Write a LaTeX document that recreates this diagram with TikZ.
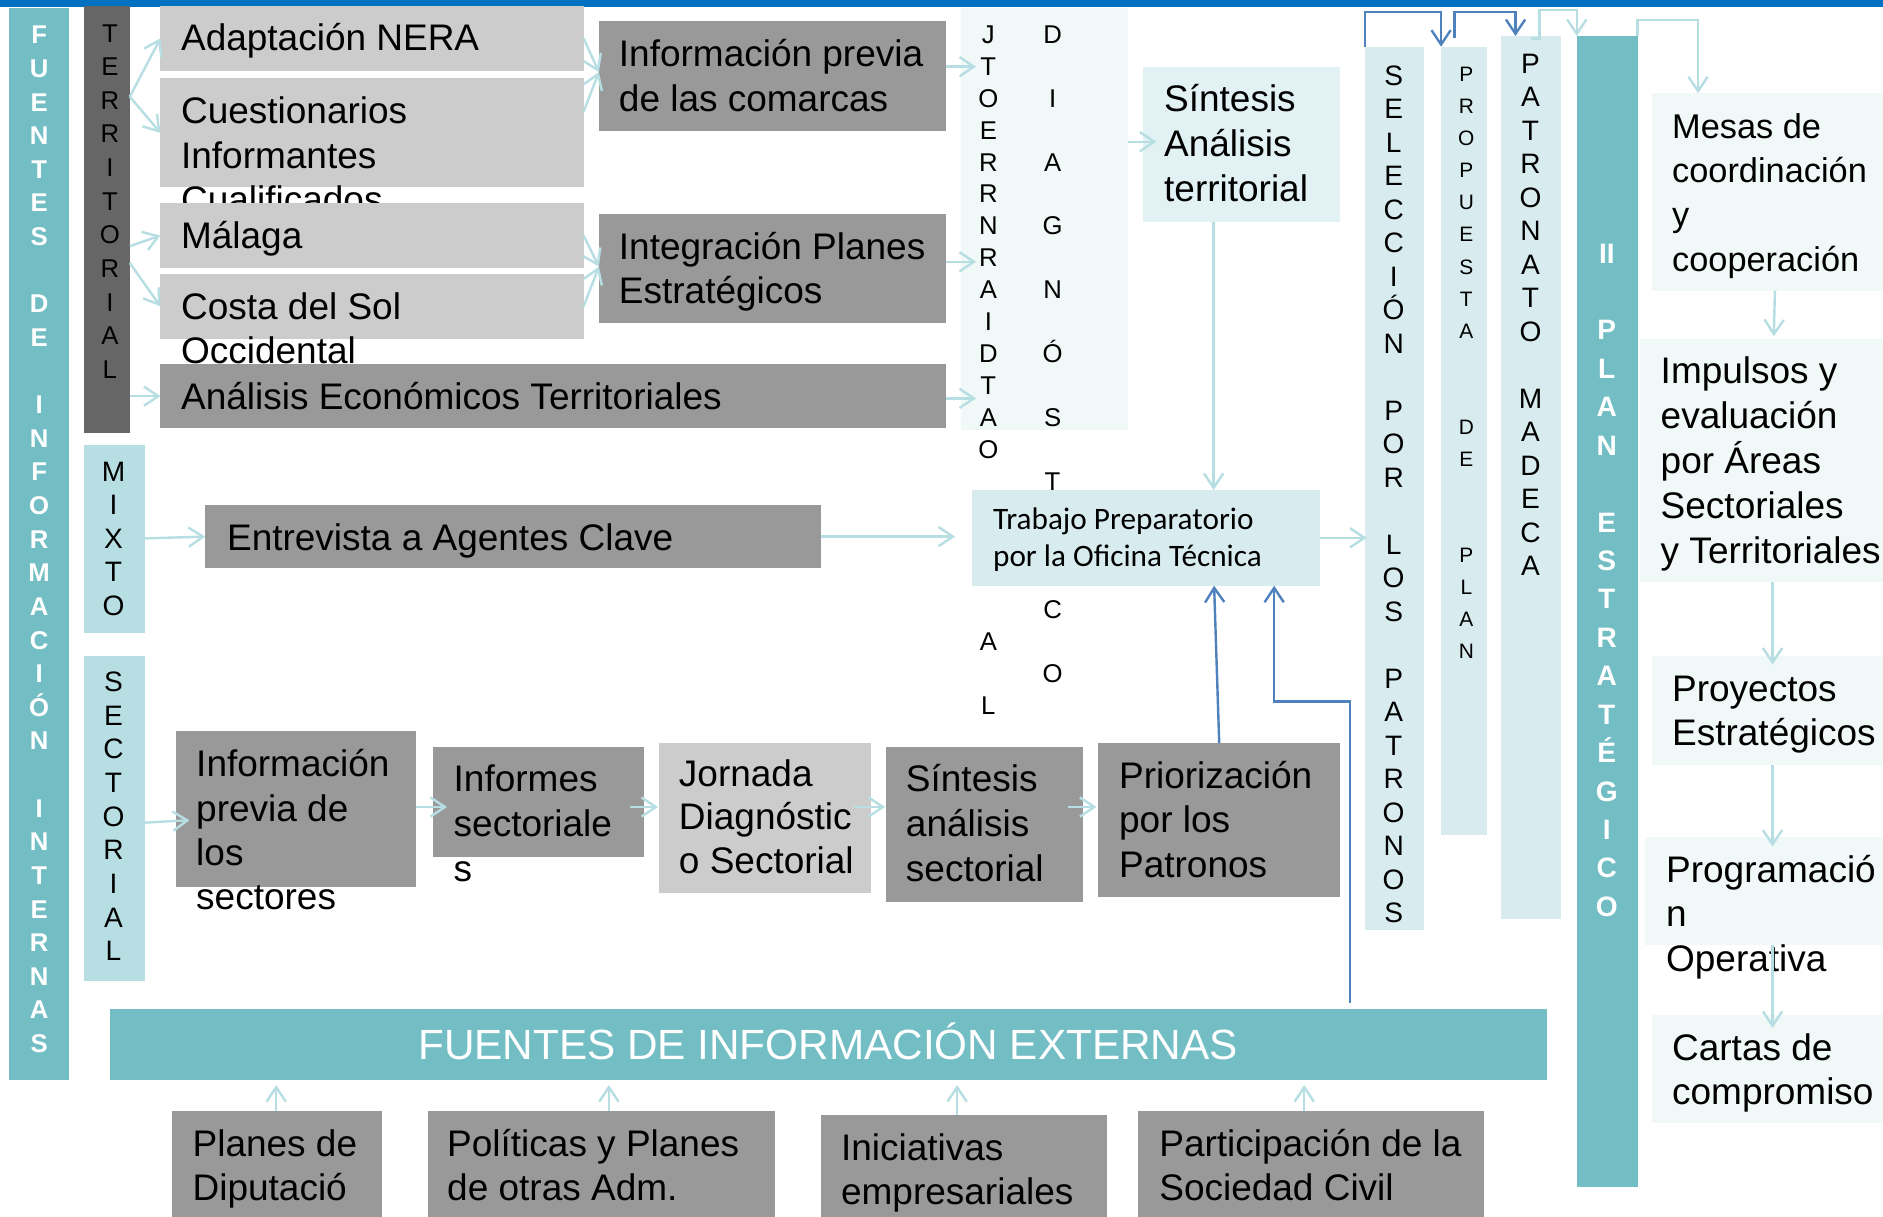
\documentclass[tikz,border=0pt]{standalone}
\usepackage{fontspec}
\setmainfont{Liberation Sans}
\newfontfamily\carlitofont{Carlito}
\usetikzlibrary{arrows.meta,fit}

\definecolor{topblue}{RGB}{0,112,192}
\definecolor{tealdark}{RGB}{115,190,196}
\definecolor{teallight}{RGB}{183,222,226}
\definecolor{tealpale}{RGB}{216,236,239}
\definecolor{tealsint}{RGB}{226,242,244}
\definecolor{tealfaint}{RGB}{240,248,248}
\definecolor{grayL}{RGB}{204,204,204}
\definecolor{grayM}{RGB}{153,153,153}
\definecolor{grayD}{RGB}{102,102,102}
\definecolor{arrowteal}{RGB}{183,222,226}
\definecolor{linkblue}{RGB}{79,129,189}

\tikzset{
  boxshape/.style={inner sep=0pt, outer sep=0pt, draw=none},
  tmain/.style={font=\fontsize{15.4}{18}\selectfont, text=black},
  tright/.style={font=\fontsize{14.3}{17}\selectfont, text=black},
  ttrab/.style={font=\carlitofont\fontsize{13}{15}\selectfont, text=black},
  colB/.style={font=\bfseries\fontsize{10.7}{12}\selectfont, text=white},
  colT/.style={font=\fontsize{10.7}{12}\selectfont, text=black},
  colM/.style={font=\fontsize{11.7}{13}\selectfont, text=black},
  colP/.style={font=\fontsize{8.7}{10}\selectfont, text=black},
  colPlan/.style={font=\bfseries\fontsize{11.7}{13}\selectfont, text=white},
  ar/.style={draw=arrowteal, line width=1pt, -{Straight Barb[length=6pt,width=8pt]}},
  bl/.style={draw=linkblue, line width=1pt, -{Straight Barb[length=6pt,width=8pt]}}
}

% box: name, x1, y1, x2, y2, fill
\newcommand\bx[6]{\node[boxshape, fill=#6, fit={(#2,#3) (#4,#5)}] (#1) {};}
% vertical letters: prefix, x, first baseline, pitch, style, list
\newcommand\vcol[6]{\foreach \vlet [count=\vidx from 0] in {#6} {\node[#5, anchor=base, inner sep=0pt] (#1\vidx) at (#2, #3+\vidx*#4) {\vlet};}}
% text lines: prefix, x, first baseline, pitch, style, list
\newcommand\tx[6]{\foreach \tline [count=\tidx from 0] in {#6} {\node[#5, anchor=base west, inner sep=0pt] (#1-\tidx) at (#2, #3+\tidx*#4) {\tline};}}

\begin{document}
\begin{tikzpicture}[x=0.5pt,y=-0.5pt]
\useasboundingbox (0,0) rectangle (1568,1013);
\fill[white] (0,0) rectangle (1568,1013);

\bx{topbar}{0}{0}{1568}{5.5}{topblue}

% left columns
\bx{fuentes}{7.6}{7}{57.6}{899}{tealdark}
\vcol{fl}{32.6}{36.5}{28}{colB}{F,U,E,N,T,E,S,~,D,E,~,I,N,F,O,R,M,A,C,I,Ó,N,~,I,N,T,E,R,N,A,S}
\bx{terr}{69.9}{5}{108.1}{360.3}{grayD}
\vcol{tl}{91.5}{35}{28}{colT}{T,E,R,R,I,T,O,R,I,A,L}
\bx{mixto}{69.9}{370.6}{120.8}{527.4}{teallight}
\vcol{ml}{94.5}{401}{27.8}{colM}{M,I,X,T,O}
\bx{sect}{69.9}{546.3}{120.8}{816.6}{teallight}
\vcol{sl}{94.5}{576}{28}{colM}{S,E,C,T,O,R,I,A,L}

% territorial boxes
\bx{adapt}{133.6}{5}{486}{58.8}{grayL}
\tx{adaptT}{150.4}{42}{37}{tmain}{Adaptación NERA}
\bx{cuest}{133.6}{65.2}{486}{156}{grayL}
\tx{cuestT}{150.4}{103}{37}{tmain}{Cuestionarios,Informantes,Cualificados}
\bx{malaga}{133.6}{169.3}{486}{222.9}{grayL}
\tx{malagaT}{150.4}{207}{37}{tmain}{Málaga}
\bx{costa}{133.6}{228.2}{486}{282}{grayL}
\tx{costaT}{150.4}{266}{37}{tmain}{Costa del Sol,Occidental}
\bx{anal}{133.6}{303.1}{787.8}{356.7}{grayM}
\tx{analT}{150.4}{341}{37}{tmain}{Análisis Económicos Territoriales}
\bx{info}{498.7}{17.5}{787.8}{108.8}{grayM}
\tx{infoT}{515}{55.5}{37.5}{tmain}{Información previa,de las comarcas}
\bx{integ}{498.7}{178.2}{787.8}{269.2}{grayM}
\tx{integT}{515}{216}{37}{tmain}{Integración Planes,Estratégicos}

% jornada / diagnostico (letters hidden by the Trabajo box are left out)
\bx{jd}{800}{7}{939}{358}{tealfaint}
\vcol{ja}{823}{36}{26.6}{colT}{J,T,O,E,R,R,N,R,A,I,D,T,A,O,~,~,~,~,~,A,~,L}
\vcol{jb}{876.5}{36}{26.6}{colT}{D,~,I,~,A,~,G,~,N,~,Ó,~,S,~,T,~,~,~,C,~,O}

\bx{sintT}{952}{55.5}{1116}{184.6}{tealsint}
\tx{sintTT}{969}{93}{37.5}{tmain}{Síntesis,Análisis,territorial}

\bx{trab}{809}{408}{1099}{487.7}{tealpale}
\tx{trabT}{826.6}{441}{31}{ttrab}{Trabajo Preparatorio,por la Oficina Técnica}

\bx{entre}{170.9}{420.5}{683.3}{473.2}{grayM}
\tx{entreT}{188.7}{458}{37}{tmain}{Entrevista a Agentes Clave}

% sectorial row
\bx{infoS}{146.3}{608.7}{346.8}{738.3}{grayM}
\tx{infoST}{163}{646.7}{37}{tmain}{Información,previa de,los,sectores}
\bx{inform}{360.5}{622.3}{536}{713.4}{grayM}
\tx{informT}{377.4}{659}{37.5}{tmain}{Informes,sectoriale,s}
\bx{jorn}{548.7}{619}{725}{743.9}{grayL}
\tx{jornT}{565}{655}{36}{tmain}{Jornada,Diagnóstic,o Sectorial}
\bx{sintS}{738}{621.8}{902}{750.8}{grayM}
\tx{sintST}{754}{659}{37.5}{tmain}{Síntesis,análisis,sectorial}
\bx{prior}{914.5}{618.8}{1116}{747}{grayM}
\tx{priorT}{931.5}{656.5}{37}{tmain}{Priorización,por los,Patronos}

% vertical columns
\bx{sel}{1136.7}{38.9}{1186}{774.4}{tealpale}
\vcol{sell}{1160.5}{71}{27.9}{colM}{S,E,L,E,C,C,I,Ó,N,~,P,O,R,~,L,O,S,~,P,A,T,R,O,N,O,S}
\bx{prop}{1200}{38.9}{1238}{695}{tealpale}
\vcol{propl}{1221}{68}{26.7}{colP}{P,R,O,P,U,E,S,T,A,~,~,D,E,~,~,P,L,A,N}
\bx{patr}{1250}{30}{1300}{765}{tealpale}
\vcol{patrl}{1274.5}{61}{27.9}{colM}{P,A,T,R,O,N,A,T,O,~,M,A,D,E,C,A}
\bx{plan}{1313}{30}{1363.6}{988}{tealdark}
\vcol{planl}{1338}{219}{32}{colPlan}{II,~,P,L,A,N,~,E,S,T,R,A,T,É,G,I,C,O}

% right boxes
\bx{mesas}{1376}{77.7}{1568}{242}{tealfaint}
\tx{mesasT}{1392}{115}{37}{tright}{Mesas de,coordinación,y,cooperación}
\bx{impul}{1366}{282.6}{1568}{484.4}{tealfaint}
\tx{impulT}{1382.5}{319}{37.5}{tmain}{Impulsos y,evaluación,por Áreas,Sectoriales,y Territoriales}
\bx{proy}{1376}{546}{1568}{637}{tealfaint}
\tx{proyT}{1392}{584}{37}{tmain}{Proyectos,Estratégicos}
\bx{prog}{1370}{696.7}{1568}{787}{tealfaint}
\tx{progT}{1387}{734.6}{37.2}{tmain}{Programació,n,Operativa}
\bx{cartas}{1376}{845}{1568}{935}{tealfaint}
\tx{cartasT}{1392}{883}{37}{tmain}{Cartas de,compromiso}

% external sources
\bx{ext}{92}{840}{1288}{899}{tealdark}
\node[anchor=base, inner sep=0pt, text=white, font=\fontsize{17.6}{20}\selectfont] (extT) at (689.5,882.6) {FUENTES DE INFORMACIÓN EXTERNAS};
\bx{b1}{143}{925}{318}{1013}{grayM}
\tx{b1T}{160}{963}{37}{tmain}{Planes de,Diputació}
\bx{b2}{356}{925}{645}{1013}{grayM}
\tx{b2T}{372}{963}{37}{tmain}{Políticas y Planes,de otras Adm.}
\bx{b3}{684}{928.5}{922}{1013}{grayM}
\tx{b3T}{700}{966}{37}{tmain}{Iniciativas,empresariales}
\bx{b4}{948}{925}{1236}{1013}{grayM}
\tx{b4T}{965}{963}{37}{tmain}{Participación de la,Sociedad Civil}

% ---- connectors ----
\draw[ar] (terr.east |- 0,80.5) -- (adapt.west);
\draw[ar] (terr.east |- 0,80.5) -- (cuest.west);
\draw[ar] (terr.east |- 0,205) -- (malaga.west);
\draw[ar] (terr.east |- 0,219) -- (costa.west);
\draw[ar] (terr.east |- anal.west) -- (anal.west);

\draw[ar] (adapt.east) -- (info.west |- 0,60);
\draw[ar] (cuest.east |- 0,93) -- (info.west |- 0,60);
\draw[ar] (malaga.east) -- (integ.west |- 0,222);
\draw[ar] (costa.east) -- (integ.west |- 0,222);

\draw[ar] (info.east |- 0,55.5) -- ++(25,0);
\draw[ar] (integ.east |- 0,218) -- ++(25,0);
\draw[ar] (anal.east |- 0,331.7) -- ++(25,0);
\draw[ar] (jd.east |- 0,118) -- ++(24,0);
\draw[ar] (sintT.south -| 1010.6,0) -- (trab.north -| 1010.6,0);

\draw[ar] (mixto.east |- 0,448.3) -- (entre.west);
\draw[ar] (entre.east) -- ++(112,0);
\draw[ar] (trab.east) -- ++(39,0);

\draw[ar] (sect.east |- 0,685) -- ++(37,-2);
\draw[ar] (infoS.east |- 0,672) -- ++(25.5,0);
\draw[ar] (inform.east |- 0,672) ++(-11,0) -- ++(23,0);
\draw[ar] (jorn.east |- 0,672) ++(-14,0) -- ++(26,0);
\draw[ar] (sintS.east |- 0,672) ++(-13,0) -- ++(24,0);

\draw[bl] (prior.north) -- (trab.south -| 1011,0);
\coordinate (extTop) at (1124,835);
\draw[bl] (extTop) -- ++(0,-251) -| (trab.south -| 1061,0);

\draw[bl] (sel.north west) -- ++(0,-29) -| (prop.north west);
\draw[bl] (prop.north west) ++(11,-7) -- ++(0,-22) -| ([xshift=6pt]patr.north west);
\draw[ar] (patr.north) ++(0,2) -- ++(7,0) -- ++(0,-23.7) -| (plan.north west);
\draw[ar] (plan.north east) -- ++(0,-13.3) -| ([xshift=19pt]mesas.north west);

\draw[ar] (mesas.south -| 1478,0) -- ++(-1,38);
\draw[ar] (impul.south -| 1476,0) -- ++(0,69);
\draw[ar] (proy.south -| 1476,0) -- ++(0,68);
\draw[ar] (prog.south -| 1476,0) -- ++(0,69);

\draw[ar] (b1.north -| 230,0) -- ++(0,-21.5);
\draw[ar] (b2.north -| 507,0) -- ++(0,-21.5);
\draw[ar] (b3.north -| 797,0) -- ++(0,-25);
\draw[ar] (b4.north -| 1086,0) -- ++(0,-21.5);
\end{tikzpicture}
\end{document}
